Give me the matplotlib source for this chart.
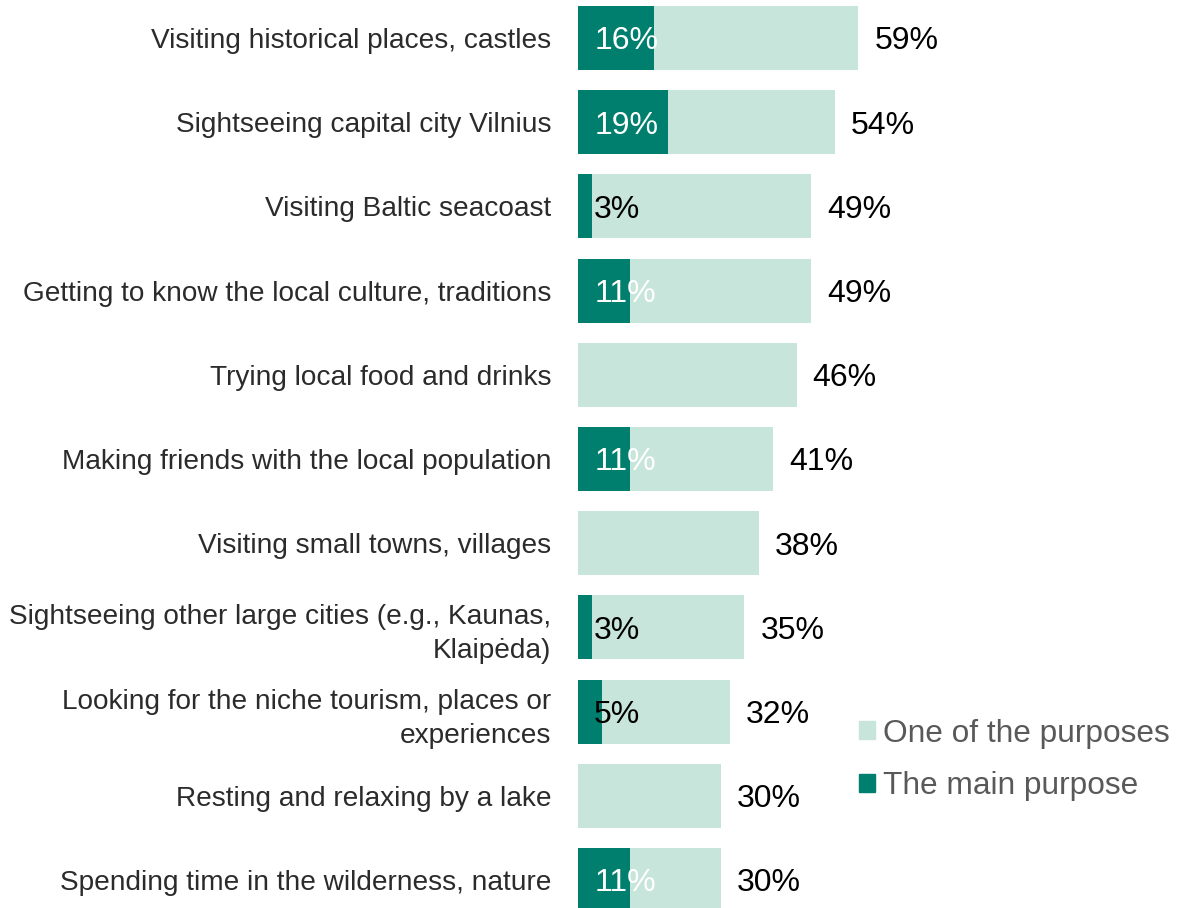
import numpy as np
import matplotlib

matplotlib.use("Agg")
import matplotlib.pyplot as plt
from matplotlib.patches import Patch

plt.rcParams["font.family"] = ["Liberation Sans", "DejaVu Sans"]

categories = [
    "Visiting historical places, castles",
    "Sightseeing capital city Vilnius",
    "Visiting Baltic seacoast",
    "Getting to know the local culture, traditions",
    "Trying local food and drinks",
    "Making friends with the local population",
    "Visiting small towns, villages",
    "Sightseeing other large cities (e.g., Kaunas,\nKlaipėda)",
    "Looking for the niche tourism, places or\nexperiences",
    "Resting and relaxing by a lake",
    "Spending time in the wilderness, nature",
]
one_of_purposes = [59, 54, 49, 49, 46, 41, 38, 35, 32, 30, 30]
main_purpose = [16, 19, 3, 11, np.nan, 11, np.nan, 3, 5, np.nan, 11]

LIGHT = "#c8e5db"
DARK = "#007f6e"

fig = plt.figure(figsize=(11.79, 9.08), dpi=100)
ax = fig.add_axes([578 / 1179, 0.0, 475 / 1179, 1.0])

ys = np.arange(len(categories))
ax.barh(ys, one_of_purposes, height=0.76, color=LIGHT, left=0)
main_vals = np.nan_to_num(np.array(main_purpose, dtype=float))
ax.barh(ys, main_vals, height=0.76, color=DARK, left=0)

ax.set_xlim(0, 100)
ax.set_ylim(10.333, -0.451)

for y, total, main in zip(ys, one_of_purposes, main_purpose):
    ax.text(total + 3.4, y, f"{total}%", va="center_baseline", ha="left",
            fontsize=23, color="black")
    if not np.isnan(main):
        colour = "white" if main >= 10 else "black"
        ax.text(3.6 if main >= 10 else 3.3, y, f"{int(main)}%", va="center_baseline",
                ha="left", fontsize=23, color=colour)

ax.set_yticks(ys)
ax.set_yticklabels(categories, fontsize=20.2, color="#2b2b2b", linespacing=1.4)
ax.tick_params(axis="y", length=0, pad=19)
ax.set_xticks([])
for spine in ax.spines.values():
    spine.set_visible(False)

handles = [Patch(color=LIGHT, label="One of the purposes"),
           Patch(color=DARK, label="The main purpose")]
fig.legend(handles=handles, loc="center left", bbox_to_anchor=(853 / 1179, 1 - 760 / 908),
           frameon=False, fontsize=22.8, labelcolor="#595959",
           handlelength=0.5, handleheight=0.5, handletextpad=0.25, labelspacing=0.72,
           borderaxespad=0, borderpad=0.2)

fig.savefig("out.png", dpi=100)
